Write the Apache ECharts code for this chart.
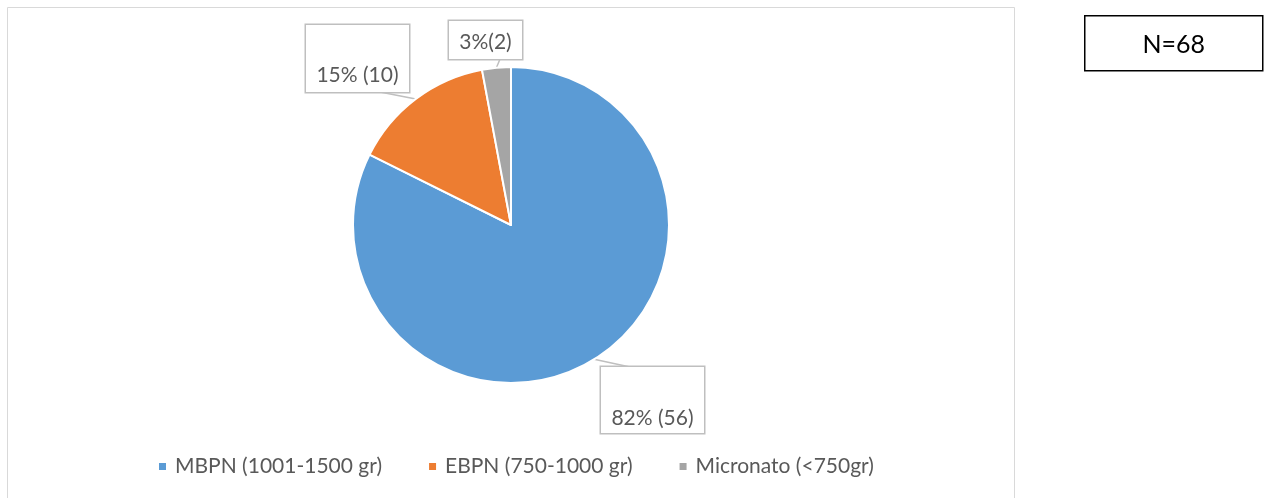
<!DOCTYPE html>
<html>
<head>
<meta charset="utf-8">
<script src="https://cdn.jsdelivr.net/npm/echarts@6/dist/echarts.min.js"></script>
<style>
  html, body { margin: 0; padding: 0; background: #ffffff; }
  #chart { width: 1269px; height: 498px; }
</style>
</head>
<body>
<div id="chart"></div>
<script>
// Birth-weight groups and number of newborns in each
const categories = ['MBPN (1001-1500 gr)', 'EBPN (750-1000 gr)', 'Micronato (<750gr)'];
const counts = [56, 10, 2];
// separator between percentage and count in each data label
const labelSeparators = [' ', ' ', ''];
const colors = ['#5b9bd5', '#ed7d31', '#a5a5a5'];

const total = counts.reduce((a, b) => a + b, 0);
const FONT = 'Lato, "Liberation Sans", sans-serif';

// Callout boxes: centre x, top y, width, padding [t, r, b, l], pointer anchor on box
const callouts = [
  { cx: 652.5, top: 367, w: 103, pad: [39, 0, 3, 0], anchor: [630, 367] },
  { cx: 357.5, top: 25, w: 103, pad: [38, 0, 5, 0], anchor: [380, 92] },
  { cx: 485.5, top: 21, w: 73, pad: [9, 0, 5, 0], anchor: [500, 59] }
];

const chart = echarts.init(document.getElementById('chart'), null, { renderer: 'canvas' });

const option = {
  animation: false,
  color: colors,
  graphic: [
    {
      type: 'rect',
      shape: { x: 7.5, y: 7.5, width: 1007, height: 520 },
      style: { fill: 'none', stroke: '#d9d9d9', lineWidth: 1 },
      silent: true,
      z: -10
    },
    {
      type: 'group',
      left: 1084,
      top: 15,
      children: [
        {
          type: 'rect',
          shape: { x: 0, y: 0, width: 178, height: 55 },
          style: { fill: '#ffffff', stroke: '#000000', lineWidth: 1.5 }
        },
        {
          type: 'text',
          x: 89,
          y: 29,
          style: {
            text: 'N=' + total,
            fill: '#000000',
            font: '25px ' + FONT,
            align: 'center',
            verticalAlign: 'middle'
          }
        }
      ]
    }
  ],
  legend: {
    orient: 'horizontal',
    left: 152,
    top: 451,
    icon: 'rect',
    itemWidth: 9,
    itemHeight: 9,
    itemGap: 45,
    selectedMode: false,
    textStyle: {
      color: '#595959',
      fontFamily: FONT,
      fontSize: 21,
      padding: [0, 0, 0, 3]
    },
    data: categories
  },
  series: [
    {
      type: 'pie',
      center: [511, 225],
      radius: [0, 158],
      startAngle: 90,
      clockwise: true,
      avoidLabelOverlap: false,
      emphasis: { disabled: true },
      itemStyle: { borderColor: '#ffffff', borderWidth: 2 },
      data: categories.map((name, i) => ({
        name: name,
        value: counts[i],
        label: {
          width: callouts[i].w,
          padding: callouts[i].pad
        }
      })),
      label: {
        show: true,
        position: 'outside',
        color: '#595959',
        fontFamily: FONT,
        fontSize: 21,
        lineHeight: 24,
        backgroundColor: '#ffffff',
        borderColor: '#bfbfbf',
        borderWidth: 1.5,
        formatter: (p) => Math.round(p.value / total * 100) + '%' + labelSeparators[p.dataIndex] + '(' + p.value + ')'
      },
      labelLine: {
        show: true,
        lineStyle: { color: '#bfbfbf', width: 1.5 }
      },
      labelLayout: (params) => {
        const c = callouts[params.dataIndex];
        const edge = params.labelLinePoints ? params.labelLinePoints[0] : null;
        const out = {
          x: c.cx,
          y: c.top,
          align: 'center',
          verticalAlign: 'top'
        };
        if (edge) {
          out.labelLinePoints = [edge, c.anchor];
        }
        return out;
      }
    }
  ]
};

chart.setOption(option);
</script>
</body>
</html>
